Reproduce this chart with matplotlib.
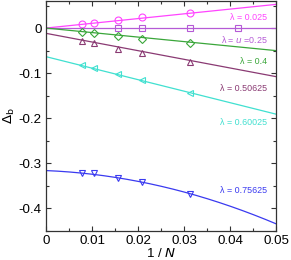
import numpy as np
import matplotlib
matplotlib.use("Agg")
import matplotlib.pyplot as plt

plt.rcParams['font.family'] = ['Liberation Sans', 'DejaVu Sans']

# data: x = 1/N
x_main = [1/128, 1/96, 1/64, 1/48, 1/32]
x_sq = [1/64, 1/48, 1/32, 1/24]

y_l0025 = [0.0085, 0.0105, 0.0175, 0.0235, 0.0335]
y_l025 = [0.0, 0.0, 0.0, 0.0]
y_l04 = [-0.0090, -0.0110, -0.0170, -0.0240, -0.0335]
y_l050625 = [-0.0285, -0.0340, -0.0460, -0.0545, -0.0745]
y_l060025 = [-0.0830, -0.0890, -0.1020, -0.1150, -0.1440]
y_l075625 = [-0.3210, -0.3220, -0.3320, -0.3420, -0.3670]

# fit coefficients (c0, c1, c2) for c0 + c1*x + c2*x^2
fit_l0025 = [0.0, 1.05, 0.0]
fit_l025 = [0.0, 0.0, 0.0]
fit_l04 = [0.0, -1.0, 0.0]
fit_l050625 = [-0.0117, -1.92, 0.0]
fit_l060025 = [-0.0634, -2.55, 0.0]
fit_l075625 = [-0.316, -0.42, -38.8]

labels = ["λ = 0.025", "λ = $\\mathit{u}$ =0.25", "λ = 0.4", "λ = 0.50625",
          "λ = 0.60025", "λ = 0.75625"]
label_y = [0.0236, -0.0250, -0.0751, -0.1348, -0.2092, -0.3595]
colors = ["#ff44ff", "#b55ad6", "#3aa63a", "#8a3a73", "#40e0d0", "#3a3af0"]
markers = ["o", "s", "D", "^", "<", "v"]
msizes = [5.0, 4.6, 3.8, 4.6, 4.8, 4.8]

fig = plt.figure(figsize=(2.91, 2.60), dpi=100)
ax = fig.add_axes([46/291, 29/260, 230/291, 230/260])

xs_all = [x_main, x_sq, x_main, x_main, x_main, x_main]
ys_all = [y_l0025, y_l025, y_l04, y_l050625, y_l060025, y_l075625]
fits = [fit_l0025, fit_l025, fit_l04, fit_l050625, fit_l060025, fit_l075625]

xf = np.linspace(0, 0.05, 200)
for xs, ys, fit, c, m, ms in zip(xs_all, ys_all, fits, colors, markers, msizes):
    yf = fit[0] + fit[1]*xf + fit[2]*xf**2
    ax.plot(xf, yf, color=c, lw=0.9)
    ax.plot(xs, ys, ls='none', marker=m, ms=ms, mfc='none', mec=c, mew=0.8)

for lab, c, yy in zip(labels, colors, label_y):
    ax.text(0.0481, yy, lab, color=c, fontsize=6.4, ha='right', va='center')

ax.set_xlim(0, 0.05)
ax.set_ylim(-0.45, 0.06)
ax.set_xticks([0, 0.01, 0.02, 0.03, 0.04, 0.05])
ax.set_xticklabels(["0", "0.01", "0.02", "0.03", "0.04", "0.05"])
ax.set_xticks(np.arange(0.005, 0.05, 0.01), minor=True)
ax.set_yticks([-0.4, -0.3, -0.2, -0.1, 0])
ax.set_yticklabels(["-0.4", "-0.3", "-0.2", "-0.1", "0"])
ax.set_yticks([-0.45, -0.35, -0.25, -0.15, -0.05, 0.05], minor=True)
ax.tick_params(which='both', direction='in', top=True, right=True, labelsize=9.6, width=0.8, color='#333333')
ax.tick_params(which='major', length=3.5, pad=3)
ax.tick_params(which='minor', length=2)
for s in ax.spines.values():
    s.set_linewidth(0.9)
    s.set_color('#333333')

ax.set_xlabel("1 / $\\mathit{N}$", fontsize=9.6, labelpad=0)
ax.set_ylabel("$\\Delta_\\mathrm{b}$", fontsize=9.6, labelpad=1)

fig.savefig("out.png", dpi=100)
